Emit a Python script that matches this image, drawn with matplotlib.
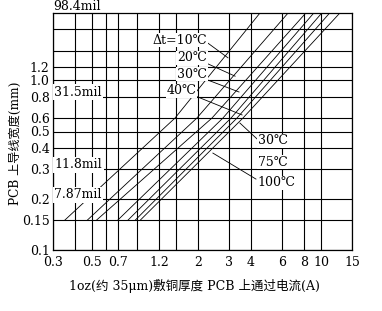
import matplotlib
matplotlib.use("Agg")
import matplotlib.pyplot as plt
from matplotlib.ticker import NullFormatter, FixedLocator
import matplotlib.transforms as mtransforms

plt.rcParams['font.family'] = ['DejaVu Serif', 'Noto Sans CJK SC']

# ---- data ----
x_ticks = [0.3, 0.5, 0.7, 1.2, 2, 3, 4, 6, 8, 10, 15]
x_ticklabels = ['0.3', '0.5', '0.7', '1.2', '2', '3', '4', '6', '8', '10', '15']
x_grid_extra = [0.4, 0.6, 0.9, 1.5]
y_ticks = [0.1, 0.15, 0.2, 0.3, 0.4, 0.5, 0.6, 0.8, 1.0, 1.2]
y_ticklabels = ['0.1', '0.15', '0.2', '0.3', '0.4', '0.5', '0.6', '0.8', '1.0', '1.2']
y_grid_extra = [1.5, 2.0]

# trace width levels (mm) at which each curve's current (A) was read
width_levels = [0.15, 0.6, 2.5]
curve_currents = [
    [0.35, 1.48, 4.5],
    [0.47, 1.97, 6.5],
    [0.53, 2.40, 8.2],
    [0.70, 2.77, 9.1],
    [0.80, 3.08, 10.1],
    [0.88, 3.33, 11.2],
    [0.94, 3.60, 12.8],
]

mil_labels = ['98.4mil', '31.5mil', '11.8mil', '7.87mil']
mil_widths = [2.5, 0.8, 0.3, 0.2]

upper_labels = ['Δt=10℃', '20℃', '30℃', '40℃']
lower_labels = ['30℃', '75℃', '100℃']

# ---- figure ----
W, H = 382, 311
fig = plt.figure(figsize=(W / 100, H / 100), dpi=100)
L, R, T, B = 53, 352, 13, 250
ax = fig.add_axes([L / W, 1 - B / H, (R - L) / W, (B - T) / H])
ax.set_xscale('log')
ax.set_yscale('log')
ax.set_xlim(0.3, 15)
ax.set_ylim(0.1, 2.5)

ax.xaxis.set_major_locator(FixedLocator(x_ticks))
ax.set_xticklabels(x_ticklabels)
ax.xaxis.set_minor_locator(FixedLocator(x_grid_extra))
ax.xaxis.set_minor_formatter(NullFormatter())
ax.yaxis.set_major_locator(FixedLocator(y_ticks))
ax.set_yticklabels(y_ticklabels)
ax.yaxis.set_minor_locator(FixedLocator(y_grid_extra))
ax.yaxis.set_minor_formatter(NullFormatter())

ax.tick_params(which='both', length=0, labelsize=9, colors='black')
ax.tick_params(axis='x', pad=4)
ax.tick_params(axis='y', pad=2.5)
ax.grid(which='both', color='black', linewidth=0.8)
ax.set_axisbelow(True)
for s in ax.spines.values():
    s.set_color('black')
    s.set_linewidth(0.9)

for cur in curve_currents:
    ax.plot(cur, width_levels, color='black', linewidth=0.6, zorder=3)

# mil labels
trans = mtransforms.blended_transform_factory(ax.transAxes, ax.transData)
ax.text(0.0, mil_widths[0], mil_labels[0], transform=trans, ha='left',
        va='bottom', fontsize=9, clip_on=False)
for lab, wv in zip(mil_labels[1:], mil_widths[1:]):
    ax.annotate(lab, xy=(0.0, wv), xycoords=trans, xytext=(1, -1.5),
                textcoords='offset points', ha='left', va='bottom', fontsize=9,
                bbox=dict(boxstyle='square,pad=0.12', fc='white', ec='none'),
                zorder=5)

box = dict(boxstyle='square,pad=0.05', fc='white', ec='none')
# upper labels: text position, leader start, leader end
upper_pos = [(1.11, 1.73), (1.52, 1.36), (1.52, 1.09), (1.33, 0.867)]
upper_lead = [((2.19, 1.71), (2.96, 1.36)),
              ((2.14, 1.29), (3.25, 1.06)),
              ((2.14, 1.03), (3.42, 0.855)),
              ((1.87, 0.821), (3.56, 0.626))]
for lab, p, (a, b) in zip(upper_labels, upper_pos, upper_lead):
    ax.plot([a[0], b[0]], [a[1], b[1]], color='black', linewidth=0.6, zorder=4)
    ax.text(p[0], p[1], lab, ha='left', va='center', fontsize=9, bbox=box, zorder=6)

lower_pos = [(4.38, 0.44), (4.38, 0.330), (4.38, 0.249)]
lower_lead = [((3.46, 0.561), (4.33, 0.452)), None,
              ((2.43, 0.373), (4.27, 0.262))]
for lab, p, ld in zip(lower_labels, lower_pos, lower_lead):
    if ld is not None:
        a, b = ld
        ax.plot([a[0], b[0]], [a[1], b[1]], color='black', linewidth=0.6, zorder=4)
    ax.text(p[0], p[1], lab, ha='left', va='center', fontsize=9, bbox=box, zorder=6)

fig.text(194 / W, 1 - 286 / H, '1oz(约 35μm)敷铜厚度 PCB 上通过电流(A)',
         ha='center', va='center', fontsize=9)
fig.text(15 / W, 1 - 143 / H, 'PCB 上导线宽度(mm)', rotation=90,
         ha='center', va='center', fontsize=8.7)

fig.savefig('out.png', dpi=100, facecolor='white')
